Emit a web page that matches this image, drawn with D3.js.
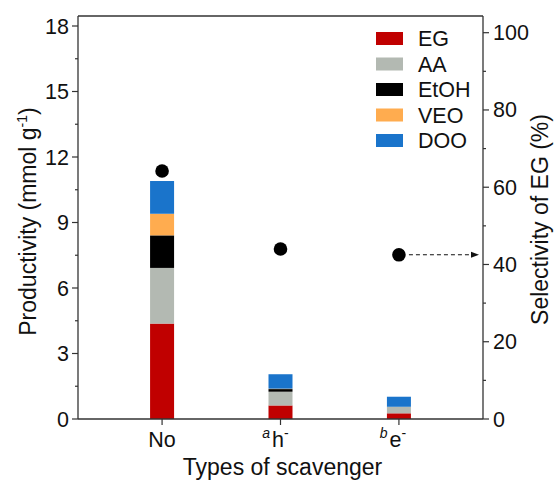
<!DOCTYPE html>
<html>
<head>
<meta charset="utf-8">
<script src="https://cdn.jsdelivr.net/npm/d3@7"></script>
<style>
  html, body { margin: 0; padding: 0; background: #fff; }
  svg { display: block; font-family: "Liberation Sans", Arial, sans-serif; }
</style>
</head>
<body>
<svg id="chart" width="555" height="485"></svg>
<script>
// Scavenger categories and their axis label parts
const categories = ["No", "h-", "e-"];
const labelPrefix = ["", "a", "b"];
const labelBase = ["No", "h", "e"];
const labelSup = ["", "-", "-"];

// Productivity of each product (mmol g-1)
const seriesNames = ["EG", "AA", "EtOH", "VEO", "DOO"];
const EG   = [4.37, 0.62, 0.26];
const AA   = [2.55, 0.63, 0.30];
const EtOH = [1.49, 0.12, 0.00];
const VEO  = [0.99, 0.02, 0.00];
const DOO  = [1.50, 0.66, 0.46];

// Selectivity of EG (%)
const selectivity = [64.2, 44.0, 42.5];

// Axis ticks
const leftTicks = [0, 3, 6, 9, 12, 15, 18];
const leftMinor = [1.5, 4.5, 7.5, 10.5, 13.5, 16.5];
const rightTicks = [0, 20, 40, 60, 80, 100];
const rightMinor = [10, 30, 50, 70, 90];

const colors = {
  EG: "#c00000",
  AA: "#b3b9b2",
  EtOH: "#000000",
  VEO: "#ffac4f",
  DOO: "#1a74cb"
};

const values = { EG, AA, EtOH, VEO, DOO };
const rows = categories.map((c, i) => {
  const r = { cat: c };
  seriesNames.forEach(s => r[s] = values[s][i]);
  return r;
});

const svg = d3.select("#chart");
const plotLeft = 78, plotRight = 483, plotTop = 16, plotBottom = 419;
const axisColor = "#333";
const textColor = "#111";

const x = d3.scalePoint().domain(categories).range([plotLeft, plotRight]).padding(0.71);
const y = d3.scaleLinear().domain([0, 18]).range([plotBottom, 26]);
const y2 = d3.scaleLinear().domain([0, 100]).range([plotBottom, 32.7]);

const barW = 24;
const stack = d3.stack().keys(seriesNames)(rows);

svg.append("g").selectAll("g")
  .data(stack)
  .join("g")
  .attr("fill", d => colors[d.key])
  .selectAll("rect")
  .data(d => d)
  .join("rect")
  .attr("x", d => x(d.data.cat) - barW / 2)
  .attr("width", barW)
  .attr("y", d => y(d[1]))
  .attr("height", d => y(d[0]) - y(d[1]));

// Frame
svg.append("line").attr("x1", plotLeft).attr("x2", plotRight).attr("y1", plotTop).attr("y2", plotTop)
  .attr("stroke", axisColor).attr("stroke-width", 1.3);

const tickFont = 21.5;
const titleFont = 23;
const supFont = 14;

// Left axis
const gL = svg.append("g").attr("transform", `translate(${plotLeft},0)`);
gL.append("line").attr("y1", plotTop).attr("y2", plotBottom).attr("stroke", axisColor).attr("stroke-width", 1.3);
gL.selectAll(".maj").data(leftTicks).join("line")
  .attr("x1", -6).attr("x2", 0).attr("y1", d => y(d)).attr("y2", d => y(d))
  .attr("stroke", axisColor).attr("stroke-width", 1.2);
gL.selectAll(".min").data(leftMinor).join("line")
  .attr("x1", -3).attr("x2", 0).attr("y1", d => y(d)).attr("y2", d => y(d))
  .attr("stroke", axisColor).attr("stroke-width", 1.2);
gL.selectAll("text").data(leftTicks).join("text")
  .attr("x", -9).attr("y", d => y(d)).attr("dy", "0.35em")
  .attr("text-anchor", "end").attr("font-size", tickFont).attr("fill", textColor)
  .text(d => d);

// Right axis
const gR = svg.append("g").attr("transform", `translate(${plotRight},0)`);
gR.append("line").attr("y1", plotTop).attr("y2", plotBottom).attr("stroke", axisColor).attr("stroke-width", 1.3);
gR.selectAll(".maj").data(rightTicks).join("line")
  .attr("x1", 0).attr("x2", 6).attr("y1", d => y2(d)).attr("y2", d => y2(d))
  .attr("stroke", axisColor).attr("stroke-width", 1.2);
gR.selectAll(".min").data(rightMinor).join("line")
  .attr("x1", 0).attr("x2", 3).attr("y1", d => y2(d)).attr("y2", d => y2(d))
  .attr("stroke", axisColor).attr("stroke-width", 1.2);
gR.selectAll("text").data(rightTicks).join("text")
  .attr("x", 10).attr("y", d => y2(d)).attr("dy", "0.35em")
  .attr("text-anchor", "start").attr("font-size", tickFont).attr("fill", textColor)
  .text(d => d);

// Bottom axis
const gB = svg.append("g");
gB.append("line").attr("x1", plotLeft).attr("x2", plotRight).attr("y1", plotBottom).attr("y2", plotBottom)
  .attr("stroke", axisColor).attr("stroke-width", 1.3);
gB.selectAll(".tk").data(categories).join("line")
  .attr("x1", d => x(d)).attr("x2", d => x(d)).attr("y1", plotBottom).attr("y2", plotBottom + 6)
  .attr("stroke", axisColor).attr("stroke-width", 1.2);
const labelShift = [0, -5, -6];
const xl = gB.selectAll("text").data(categories).join("text")
  .attr("x", (d, i) => x(d) + labelShift[i]).attr("y", 447)
  .attr("text-anchor", "middle").attr("font-size", tickFont).attr("fill", textColor);
xl.each(function (d, i) {
  const t = d3.select(this);
  if (labelPrefix[i]) {
    t.append("tspan").attr("font-size", supFont).attr("font-style", "italic")
      .attr("dy", -9).text(labelPrefix[i]);
    t.append("tspan").attr("dx", 2).attr("dy", 9).text(labelBase[i]);
  } else {
    t.append("tspan").text(labelBase[i]);
  }
  if (labelSup[i]) {
    t.append("tspan").attr("font-size", supFont).attr("dy", -9).text(labelSup[i]);
  }
});

// Axis titles
svg.append("text")
  .attr("x", (plotLeft + plotRight) / 2 + 2).attr("y", 475)
  .attr("text-anchor", "middle").attr("font-size", titleFont).attr("fill", textColor)
  .text("Types of scavenger");

const yt = svg.append("text")
  .attr("transform", `translate(36,${(plotTop + plotBottom) / 2 + 4}) rotate(-90)`)
  .attr("text-anchor", "middle").attr("font-size", titleFont).attr("fill", textColor);
yt.append("tspan").text("Productivity (mmol g");
yt.append("tspan").attr("font-size", supFont).attr("dy", -9).text("-1");
yt.append("tspan").attr("dy", 9).text(")");

svg.append("text")
  .attr("transform", `translate(548,${(plotTop + plotBottom) / 2 + 2}) rotate(-90)`)
  .attr("text-anchor", "middle").attr("font-size", titleFont).attr("fill", textColor)
  .text("Selectivity of EG (%)");

// Selectivity markers
svg.append("g").selectAll("circle")
  .data(categories)
  .join("circle")
  .attr("cx", d => x(d))
  .attr("cy", (d, i) => y2(selectivity[i]))
  .attr("r", 6.8)
  .attr("fill", "#000");

// Dashed arrow pointing to the selectivity axis
const lastIdx = categories.length - 1;
const ay = y2(selectivity[lastIdx]);
const ax0 = x(categories[lastIdx]) + 10;
const ax1 = plotRight - 4;
svg.append("line")
  .attr("x1", ax0).attr("x2", ax1 - 7).attr("y1", ay).attr("y2", ay)
  .attr("stroke", "#111").attr("stroke-width", 1.1).attr("stroke-dasharray", "4,3");
svg.append("path")
  .attr("d", `M${ax1},${ay} L${ax1 - 8},${ay - 3} L${ax1 - 8},${ay + 3} Z`)
  .attr("fill", "#111");

// Legend
const legend = svg.append("g");
const lgItems = legend.selectAll("g").data(seriesNames).join("g")
  .attr("transform", (d, i) => `translate(376,${38.5 + i * 25.5})`);
lgItems.append("rect")
  .attr("x", 0).attr("y", -6.5).attr("width", 27).attr("height", 13)
  .attr("fill", d => colors[d]);
lgItems.append("text")
  .attr("x", 42).attr("y", 0).attr("dy", "0.36em")
  .attr("font-size", tickFont).attr("fill", textColor)
  .text(d => d);
</script>
</body>
</html>
